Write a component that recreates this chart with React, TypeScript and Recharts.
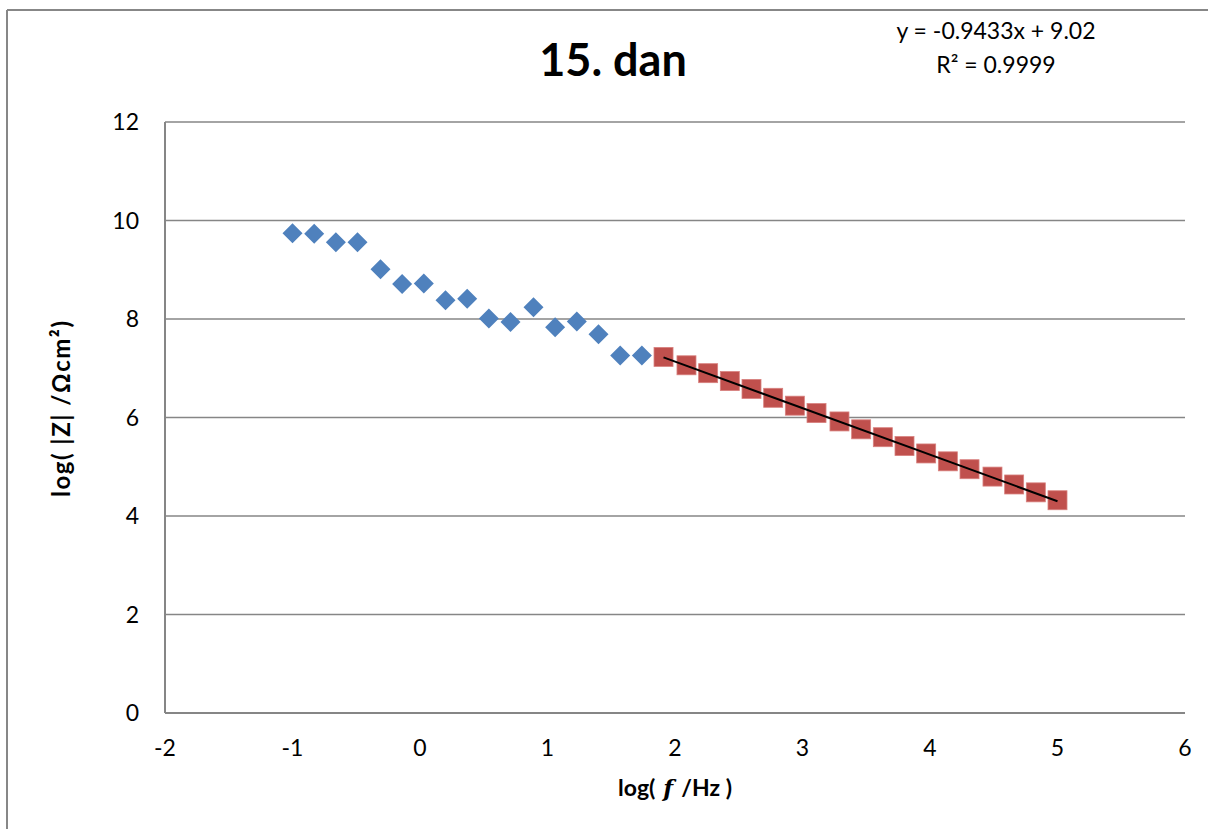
import React from "react";
import { ScatterChart, Scatter, XAxis, YAxis, CartesianGrid } from "recharts";

const blueX = [-1.0, -0.83, -0.66, -0.49, -0.31, -0.14, 0.03, 0.2, 0.37, 0.54, 0.71, 0.89, 1.06, 1.23, 1.4, 1.57, 1.74];
const blueY = [9.74, 9.73, 9.56, 9.56, 9.01, 8.71, 8.72, 8.38, 8.41, 8.01, 7.94, 8.24, 7.83, 7.95, 7.69, 7.26, 7.26];
const redX = [1.91, 2.09, 2.26, 2.43, 2.6, 2.77, 2.94, 3.11, 3.29, 3.46, 3.63, 3.8, 3.97, 4.14, 4.31, 4.49, 4.66, 4.83, 5.0];
const redY = [7.23, 7.06, 6.9, 6.74, 6.58, 6.4, 6.24, 6.09, 5.92, 5.76, 5.6, 5.42, 5.27, 5.11, 4.95, 4.8, 4.64, 4.48, 4.32];
const trendX = [1.91, 5.0];
const trendY = [7.22, 4.3];
const xTicks = [-2, -1, 0, 1, 2, 3, 4, 5, 6];
const yTicks = [0, 2, 4, 6, 8, 10, 12];
const titleText = "15. dan";
const eqLine1 = "y = -0.9433x + 9.02";
const eqLine2 = "R² = 0.9999";

const blueData = blueX.map((x, i) => ({ x, y: blueY[i] }));
const redData = redX.map((x, i) => ({ x, y: redY[i] }));
const trendData = trendX.map((x, i) => ({ x, y: trendY[i] }));

const FONT = "Lato, 'Open Sans', sans-serif";

const Diamond = (p: any) => {
  const { cx, cy } = p;
  const r = 10;
  return <path d={`M${cx},${cy - r}L${cx + r},${cy}L${cx},${cy + r}L${cx - r},${cy}Z`} fill="#4F81BD" />;
};
const Square = (p: any) => {
  const { cx, cy } = p;
  const s = 19;
  return <rect x={cx - s / 2} y={cy - s / 2} width={s} height={s} fill="#C0504D" stroke="#D8807E" strokeWidth={0.8} />;
};
const NoShape = () => <g />;

const XTick = (p: any) => (
  <text x={p.x} y={756} textAnchor="middle" fontFamily={FONT} fontSize={23} fill="#000">
    {p.payload.value}
  </text>
);
const YTick = (p: any) => (
  <text x={139} y={p.y + 8} textAnchor="end" fontFamily={FONT} fontSize={23} fill="#000">
    {p.payload.value}
  </text>
);

export default function App() {
  return (
    <div style={{ position: "absolute", left: 0, top: 0, width: 1208, height: 829, background: "#fff", overflow: "hidden" }}>
      <ScatterChart width={1208} height={829} margin={{ top: 122, right: 23, left: 0, bottom: 0 }}>
        <CartesianGrid vertical={false} stroke="#868686" strokeWidth={1.5} />
        <XAxis
          type="number"
          dataKey="x"
          domain={[-2, 6]}
          ticks={xTicks}
          height={116}
          tickLine={false}
          axisLine={{ stroke: "#868686", strokeWidth: 2 }}
          tick={<XTick />}
          interval={0}
        />
        <YAxis
          type="number"
          dataKey="y"
          domain={[0, 12]}
          ticks={yTicks}
          width={165}
          tickLine={false}
          axisLine={{ stroke: "#868686", strokeWidth: 2 }}
          tick={<YTick />}
          interval={0}
        />
        <Scatter data={blueData} shape={<Diamond />} isAnimationActive={false} />
        <Scatter data={redData} shape={<Square />} isAnimationActive={false} />
        <Scatter data={trendData} shape={<NoShape />} line={{ stroke: "#000", strokeWidth: 2 }} isAnimationActive={false} />
      </ScatterChart>
      <svg width={1208} height={829} style={{ position: "absolute", left: 0, top: 0, pointerEvents: "none" }}>
        <line x1={7} y1={10} x2={1208} y2={10} stroke="#878787" strokeWidth={2} />
        <line x1={7} y1={10} x2={7} y2={829} stroke="#878787" strokeWidth={2} />
        <text x={613} y={76} textAnchor="middle" fontFamily={FONT} fontWeight="bold" fontSize={45} fill="#000">
          {titleText}
        </text>
        <text x={996} y={39} textAnchor="middle" fontFamily={FONT} fontSize={23} fill="#000">
          {eqLine1}
        </text>
        <text x={996} y={73} textAnchor="middle" fontFamily={FONT} fontSize={23} fill="#000">
          {eqLine2}
        </text>
        <text x={675} y={796} textAnchor="middle" fontFamily={FONT} fontWeight="bold" fontSize={23} fill="#000">
          log(<tspan fontStyle="italic" fontFamily="'DejaVu Serif', serif"> f </tspan>/Hz )
        </text>
        <text
          x={0}
          y={0}
          transform="translate(70,409) rotate(-90)"
          textAnchor="middle"
          fontFamily={FONT}
          fontWeight="bold"
          fontSize={24}
          fill="#000"
          textLength={176}
          lengthAdjust="spacing"
        >
          log( |Z| /Ωcm²)
        </text>
      </svg>
    </div>
  );
}
